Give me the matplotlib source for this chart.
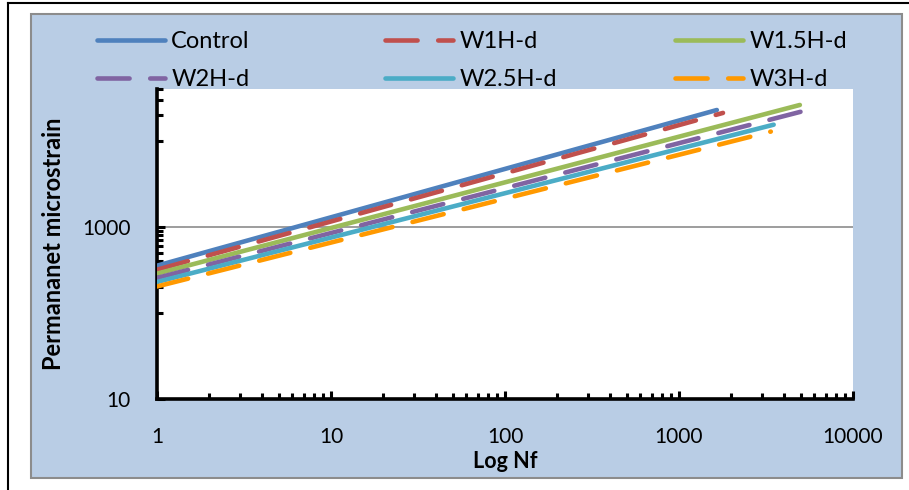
import matplotlib
matplotlib.use("Agg")
import matplotlib.pyplot as plt
from matplotlib.patches import Rectangle
from matplotlib.lines import Line2D
from matplotlib.ticker import FixedLocator, NullFormatter, FixedFormatter

plt.rcParams['font.family'] = ['Lato', 'DejaVu Sans']

# Data: each series is a straight line in log-log space
series = ["Control", "W1H-d", "W1.5H-d", "W2H-d", "W2.5H-d", "W3H-d"]
nf_start = [1, 1, 1, 1, 1, 1]
nf_end = [1650, 1790, 4950, 5800, 3500, 3370]
strain_start = [354, 318, 286, 255, 229, 203]
strain_end = [22800, 21100, 26100, 23500, 15400, 12800]
colors = ["#4F81BD", "#C0504D", "#9BBB59", "#8064A2", "#4BACC6", "#FF9900"]
dashed = [False, True, False, True, False, True]

x_ticks = [1, 10, 100, 1000, 10000]
x_ticklabels = ["1", "10", "100", "1000", "10000"]
y_ticks = [10, 1000]
y_ticklabels = ["10", "1000"]
y_minor = [100, 200, 300, 400, 500, 600, 700, 800, 900, 10000, 20000, 30000, 40000]

W, H = 909, 490
fig = plt.figure(figsize=(W / 100, H / 100), dpi=100)
fig.patch.set_facecolor("white")

# outer frame lines and blue chart area
fig.add_artist(Line2D([8 / W, 8 / W], [0, 1 - 3 / H], transform=fig.transFigure, color="black", lw=1.5))
fig.add_artist(Line2D([8 / W, 1], [1 - 3 / H, 1 - 3 / H], transform=fig.transFigure, color="black", lw=1.5))
fig.add_artist(Rectangle((31 / W, 1 - 478 / H), (902 - 31) / W, (478 - 14) / H,
                         transform=fig.transFigure, facecolor="#B9CDE5",
                         edgecolor="#8C8C8C", lw=1.5, zorder=0))

ax = fig.add_axes([157 / W, 1 - 399 / H, (853 - 157) / W, (399 - 89) / H])
ax.set_facecolor("white")
ax.set_xscale("log")
ax.set_yscale("log")
ax.set_xlim(1, 10000)
ax.set_ylim(10, 40000)

ax.axhline(1000, color="#8C8C8C", lw=1.2, zorder=1)

lw = 3.3
dash = (7, 4.5)
handles = []
for name, x0, x1, y0, y1, c, d in zip(series, nf_start, nf_end, strain_start, strain_end, colors, dashed):
    ln, = ax.plot([x0, x1], [y0, y1], color=c, lw=lw, solid_capstyle="round",
                  dash_capstyle="round", label=name, zorder=3)
    if d:
        ln.set_dashes(dash)
    handles.append(ln)

for s in ["top", "right"]:
    ax.spines[s].set_visible(False)
for s in ["left", "bottom"]:
    ax.spines[s].set_linewidth(2.6)
    ax.spines[s].set_color("black")

ax.xaxis.set_major_locator(FixedLocator(x_ticks))
ax.xaxis.set_major_formatter(FixedFormatter(x_ticklabels))
ax.yaxis.set_major_locator(FixedLocator(y_ticks))
ax.yaxis.set_major_formatter(FixedFormatter(y_ticklabels))
ax.yaxis.set_minor_locator(FixedLocator(y_minor))
ax.yaxis.set_minor_formatter(NullFormatter())
ax.xaxis.set_minor_formatter(NullFormatter())

ax.tick_params(which="both", direction="in", width=2.2, color="black", labelsize=15)
ax.tick_params(which="major", length=6)
ax.tick_params(which="minor", length=4)
ax.tick_params(axis="x", which="major", pad=20)
ax.tick_params(axis="y", which="major", pad=19)

ax.set_xlabel("Log Nf", fontsize=15.5, fontweight="bold", labelpad=3)
ax.set_ylabel("Permananet microstrain", fontsize=17, fontweight="bold", labelpad=12)

# legend: one entry per slot, 3 columns x 2 rows
col_x = [97, 385, 675]
row_y = [42, 80]
slots = [(0, 0), (0, 1), (0, 2), (1, 0), (1, 1), (1, 2)]
for (r, cidx), h, name in zip(slots, handles, series):
    lg = fig.legend([h], [name], loc="center left",
                    bbox_to_anchor=(col_x[cidx] / W, 1 - row_y[r] / H),
                    frameon=False, fontsize=17, handlelength=2.9, handletextpad=0.25,
                    borderpad=0, borderaxespad=0)

fig.savefig("out.png", dpi=100, facecolor=fig.get_facecolor())
